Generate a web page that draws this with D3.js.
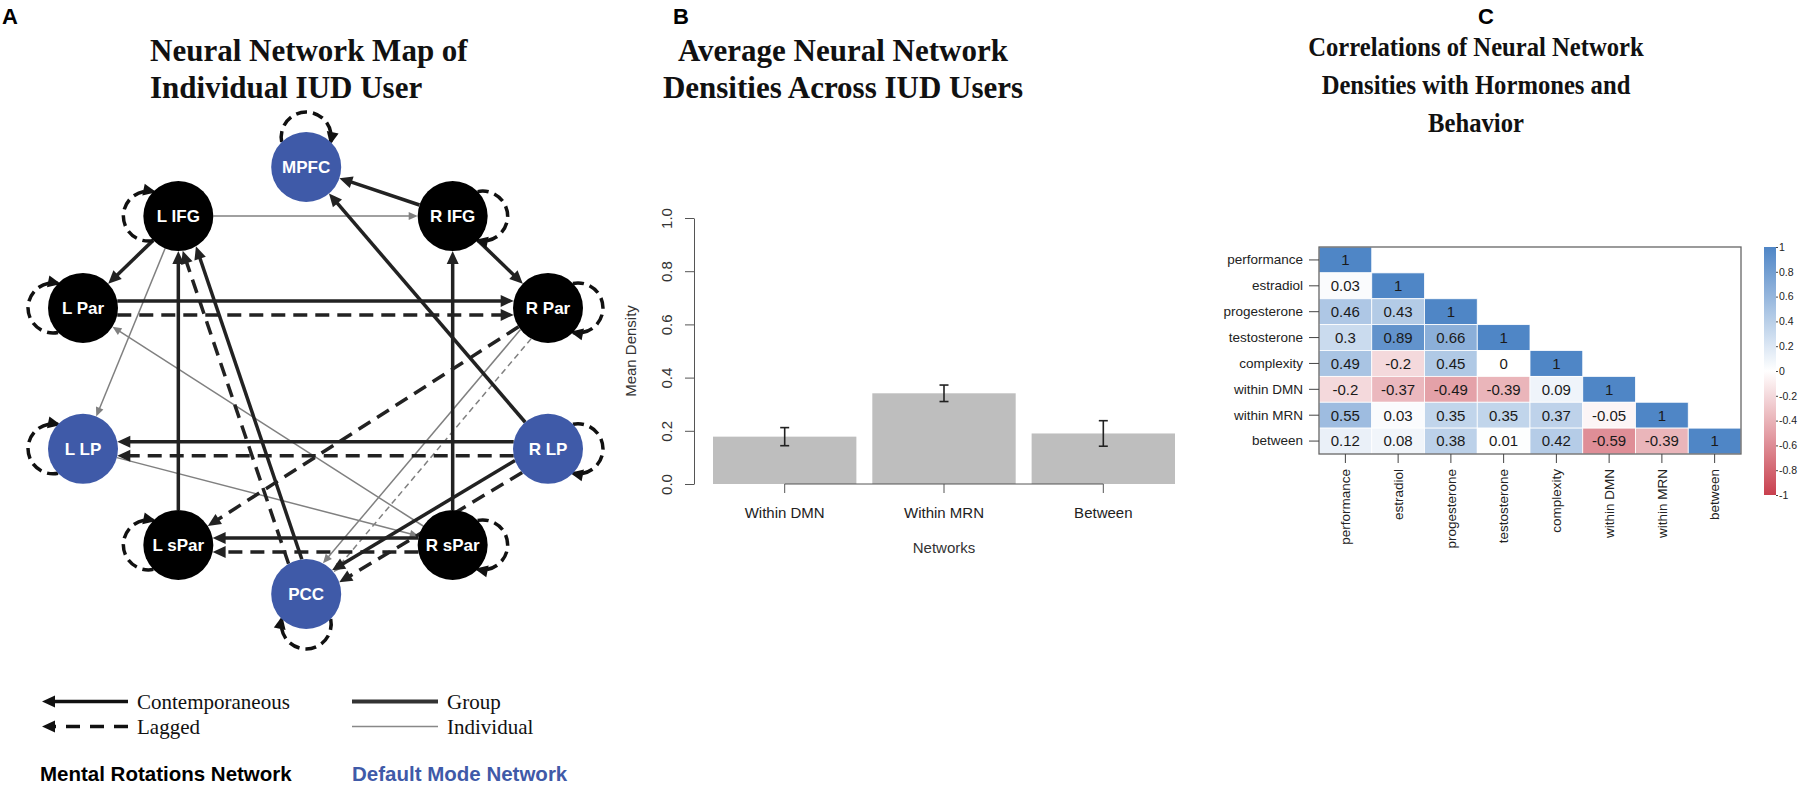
<!DOCTYPE html>
<html>
<head>
<meta charset="utf-8">
<script src="https://cdnjs.cloudflare.com/ajax/libs/d3/7.8.5/d3.min.js"></script>
<style>
  body { margin: 0; background: #fff; }
  text { font-family: "Liberation Sans", Arial, Helvetica, sans-serif; }
  text.serif { font-family: "Liberation Serif", "Times New Roman", serif; }
</style>
</head>
<body>
<svg id="fig" width="1800" height="786"></svg>
<script>
const width = 1800, height = 786;

// ---- panel A: network map ----
const regions = ['MPFC', 'R IFG', 'R Par', 'R LP', 'R sPar', 'PCC', 'L sPar', 'L LP', 'L Par', 'L IFG'];
// qgraph-style layout (unit coordinates)
const layoutX = [-0.04, 0.59, 1, 1, 0.59, -0.04, -0.59, -1, -1, -0.59];
const layoutY = [1, 0.77, 0.34, -0.32, -0.77, -1, -0.77, -0.32, 0.34, 0.77];
const defaultMode = ['MPFC', 'R LP', 'PCC', 'L LP'];
// [from, to, kind, level]
const paths = [
  ['L IFG', 'R IFG', 'contemporaneous', 'individual'],
  ['L IFG', 'L LP', 'contemporaneous', 'individual'],
  ['R sPar', 'L Par', 'contemporaneous', 'individual'],
  ['L LP', 'R sPar', 'contemporaneous', 'individual'],
  ['R Par', 'PCC', 'contemporaneous', 'individual'],
  ['R Par', 'PCC', 'lagged', 'individual'],
  ['R IFG', 'MPFC', 'contemporaneous', 'group'],
  ['R IFG', 'R Par', 'contemporaneous', 'group'],
  ['L IFG', 'L Par', 'contemporaneous', 'group'],
  ['L Par', 'R Par', 'contemporaneous', 'group'],
  ['L Par', 'R Par', 'lagged', 'group'],
  ['R LP', 'L LP', 'contemporaneous', 'group'],
  ['R LP', 'L LP', 'lagged', 'group'],
  ['R sPar', 'L sPar', 'contemporaneous', 'group'],
  ['R sPar', 'L sPar', 'lagged', 'group'],
  ['L sPar', 'L IFG', 'contemporaneous', 'group'],
  ['R sPar', 'R IFG', 'contemporaneous', 'group'],
  ['PCC', 'L IFG', 'contemporaneous', 'group'],
  ['PCC', 'L IFG', 'lagged', 'group'],
  ['R LP', 'MPFC', 'contemporaneous', 'group'],
  ['R LP', 'PCC', 'contemporaneous', 'group'],
  ['R LP', 'PCC', 'lagged', 'group'],
  ['R Par', 'L sPar', 'lagged', 'group']
];
const titleA = ['Neural Network Map of', 'Individual IUD User'];
const kindLabels = ['Contemporaneous', 'Lagged'];
const levelLabels = ['Group', 'Individual'];
const networkLabels = ['Mental Rotations Network', 'Default Mode Network'];

// ---- panel B: densities ----
const titleB = ['Average Neural Network', 'Densities Across IUD Users'];
const networks = ['Within DMN', 'Within MRN', 'Between'];
const meanDensity = [0.178, 0.341, 0.19];
const densityErr = [0.034, 0.031, 0.048];
const densityTicks = [0, 0.2, 0.4, 0.6, 0.8, 1.0];

// ---- panel C: correlations ----
const titleC = ['Correlations of Neural Network', 'Densities with Hormones and', 'Behavior'];
const corrVars = ['performance', 'estradiol', 'progesterone', 'testosterone', 'complexity', 'within DMN', 'within MRN', 'between'];
const corrLower = [
  [1],
  [0.03, 1],
  [0.46, 0.43, 1],
  [0.3, 0.89, 0.66, 1],
  [0.49, -0.2, 0.45, 0, 1],
  [-0.2, -0.37, -0.49, -0.39, 0.09, 1],
  [0.55, 0.03, 0.35, 0.35, 0.37, -0.05, 1],
  [0.12, 0.08, 0.38, 0.01, 0.42, -0.59, -0.39, 1]
];
const corrTicks = [1, 0.8, 0.6, 0.4, 0.2, 0, -0.2, -0.4, -0.6, -0.8, -1];

const svg = d3.select('#fig');
svg.append('rect').attr('width', width).attr('height', height).attr('fill', '#fff');

// panel letters and titles
[['A', 2], ['B', 673], ['C', 1478]].forEach(([l, x]) =>
  svg.append('text').attr('x', x).attr('y', 24).attr('font-weight', 'bold').attr('font-size', 22).text(l));

function title(lines, x, y0, anchor, size, step, squeeze) {
  const t = svg.append('text').attr('class', 'serif').attr('font-weight', 'bold')
    .attr('font-size', size).attr('fill', '#111').attr('text-anchor', anchor);
  lines.forEach((l, i) => {
    const s = t.append('tspan').attr('x', x).attr('y', y0 + i * step).text(l);
    if (squeeze) {
      const w = s.node().getComputedTextLength();
      s.attr('textLength', w * squeeze).attr('lengthAdjust', 'spacingAndGlyphs');
    }
  });
}
title(titleA, 150, 61, 'start', 31, 37);
title(titleB, 843, 61, 'middle', 31, 37);
title(titleC, 1476, 56, 'middle', 28, 38, 0.88);

// ================= panel A =================
const R = 35;
const blue = '#3f5aa8';
const nx = d3.scaleLinear().domain([-1, 1]).range([83, 548]);
const ny = d3.scaleLinear().domain([-1, 1]).range([594, 167]);
const pos = {};
regions.forEach((r, i) => { pos[r] = { x: nx(layoutX[i]), y: ny(layoutY[i]), lx: layoutX[i], ly: layoutY[i] }; });

const gA = svg.append('g');
const gEdges = gA.append('g');

function arrowHead(g, tip, dir, len, half, fill) {
  const bx = tip.x - dir.x * len, by = tip.y - dir.y * len;
  g.append('path')
    .attr('d', `M${tip.x},${tip.y}L${bx - dir.y * half},${by + dir.x * half}L${bx + dir.y * half},${by - dir.x * half}Z`)
    .attr('fill', fill);
}

const pairCount = d3.rollup(paths, v => v.length, d => [d[0], d[1]].sort().join('|'));
const drawOrder = paths.filter(p => p[3] === 'individual').concat(paths.filter(p => p[3] === 'group'));
drawOrder.forEach(([from, to, kind, level]) => {
  const s = pos[from], t = pos[to];
  const L = Math.hypot(t.x - s.x, t.y - s.y);
  const d = { x: (t.x - s.x) / L, y: (t.y - s.y) / L };
  let p = { x: -d.y, y: d.x };
  if (p.y < 0 || (Math.abs(p.y) < 1e-6 && p.x < 0)) p = { x: -p.x, y: -p.y };
  const off = pairCount.get([from, to].sort().join('|')) > 1 ? (kind === 'lagged' ? 7 : -7) : 0;
  const inset = Math.sqrt(R * R - off * off);
  const start = { x: s.x + p.x * off + d.x * inset, y: s.y + p.y * off + d.y * inset };
  const tip = { x: t.x + p.x * off - d.x * inset, y: t.y + p.y * off - d.y * inset };
  const group = level === 'group';
  const len = group ? 13 : 9, half = group ? 6 : 4;
  const color = group ? '#222' : '#808080';
  gEdges.append('line')
    .attr('x1', start.x).attr('y1', start.y)
    .attr('x2', tip.x - d.x * len * 0.8).attr('y2', tip.y - d.y * len * 0.8)
    .attr('stroke', color)
    .attr('stroke-width', group ? 3.5 : 1.5)
    .attr('stroke-dasharray', kind === 'lagged' ? (group ? '14,8' : '6,4') : null);
  arrowHead(gEdges, tip, d, len, half, color);
});

// autoregressive (lagged) self loops, pointing away from the ring centre
const gLoops = gA.append('g');
regions.forEach(r => {
  const c = pos[r];
  const u = Math.abs(c.lx) < 0.1 ? { x: 0, y: c.ly > 0 ? -1 : 1 } : { x: Math.sign(c.lx), y: 0 };
  const perp = { x: -u.y, y: u.x };
  const S = { x: c.x + 25 * u.x - 24.5 * perp.x, y: c.y + 25 * u.y - 24.5 * perp.y };
  const E = { x: c.x + 25 * u.x + 24.5 * perp.x, y: c.y + 25 * u.y + 24.5 * perp.y };
  gLoops.append('path')
    .attr('d', `M${S.x},${S.y}A25,25 0 1 1 ${E.x},${E.y}`)
    .attr('fill', 'none').attr('stroke', '#111').attr('stroke-width', 3.5)
    .attr('stroke-dasharray', '11,6');
  const rel = { x: -5 * u.x + 24.5 * perp.x, y: -5 * u.y + 24.5 * perp.y };
  const tl = Math.hypot(rel.x, rel.y);
  const tan = { x: -rel.y / tl, y: rel.x / tl };
  arrowHead(gLoops, { x: E.x + tan.x * 3, y: E.y + tan.y * 3 }, tan, 13, 6, '#111');
});

// nodes
const gNodes = gA.append('g').selectAll('g').data(regions).join('g')
  .attr('transform', r => `translate(${pos[r].x},${pos[r].y})`);
gNodes.append('circle').attr('r', R).attr('fill', r => defaultMode.includes(r) ? blue : '#000');
gNodes.append('text').attr('text-anchor', 'middle').attr('dy', '0.36em')
  .attr('font-size', 17).attr('font-weight', 'bold').attr('fill', '#fff').text(r => r);

// legend
const gLeg = gA.append('g');
const legY = d3.scaleBand().domain(kindLabels).range([690, 740]);
kindLabels.forEach((k, i) => {
  const y = legY(k) + legY.bandwidth() / 2 - 1;
  gLeg.append('line').attr('x1', 128).attr('y1', y).attr('x2', 52).attr('y2', y)
    .attr('stroke', '#111').attr('stroke-width', 3.5)
    .attr('stroke-dasharray', i === 1 ? '14,10' : null);
  arrowHead(gLeg, { x: 42, y }, { x: -1, y: 0 }, 13, 6, '#111');
  gLeg.append('text').attr('class', 'serif').attr('x', 137).attr('y', y + 7)
    .attr('font-size', 21).attr('fill', '#111').text(k);
});
levelLabels.forEach((k, i) => {
  const y = legY(kindLabels[i]) + legY.bandwidth() / 2 - 1;
  gLeg.append('line').attr('x1', 352).attr('y1', y).attr('x2', 438).attr('y2', y)
    .attr('stroke', i === 0 ? '#333' : '#888').attr('stroke-width', i === 0 ? 4 : 1.6);
  gLeg.append('text').attr('class', 'serif').attr('x', 447).attr('y', y + 7)
    .attr('font-size', 21).attr('fill', '#111').text(k);
});
networkLabels.forEach((k, i) => {
  gLeg.append('text').attr('x', i === 0 ? 40 : 352).attr('y', 781)
    .attr('font-size', 20.5).attr('font-weight', 'bold')
    .attr('fill', i === 0 ? '#000' : blue).text(k);
});

// ================= panel B =================
const gB = svg.append('g');
const xB = d3.scaleBand().domain(networks).range([713, 1175]).paddingInner(0.1).paddingOuter(0);
const yB = d3.scaleLinear().domain([0, 1]).range([484, 218]);
const axisColor = '#555';

gB.selectAll('rect.bar').data(networks).join('rect').attr('class', 'bar')
  .attr('x', d => xB(d)).attr('width', xB.bandwidth())
  .attr('y', (d, i) => yB(meanDensity[i])).attr('height', (d, i) => yB(0) - yB(meanDensity[i]))
  .attr('fill', '#bebebe');

const gErr = gB.append('g').attr('stroke', '#222').attr('stroke-width', 1.6);
networks.forEach((n, i) => {
  const cx = xB(n) + xB.bandwidth() / 2;
  const hi = yB(meanDensity[i] + densityErr[i]), lo = yB(meanDensity[i] - densityErr[i]);
  gErr.append('line').attr('x1', cx).attr('x2', cx).attr('y1', hi).attr('y2', lo);
  gErr.append('line').attr('x1', cx - 4.5).attr('x2', cx + 4.5).attr('y1', hi).attr('y2', hi);
  gErr.append('line').attr('x1', cx - 4.5).attr('x2', cx + 4.5).attr('y1', lo).attr('y2', lo);
});

const yAxisB = gB.append('g').attr('transform', 'translate(694,0)')
  .call(d3.axisLeft(yB).tickValues(densityTicks).tickFormat(d3.format('.1f')).tickSize(9).tickSizeOuter(0));
yAxisB.selectAll('path, line').attr('stroke', axisColor);
yAxisB.selectAll('text').attr('transform', 'rotate(-90)').attr('x', 0).attr('y', -22).attr('dy', 0)
  .attr('text-anchor', 'middle').attr('font-size', 15).attr('fill', '#333')
  .style('font-family', '"Liberation Sans", Arial, sans-serif');

const xAxisB = gB.append('g').attr('transform', 'translate(0,484)')
  .call(d3.axisBottom(xB).tickSize(9).tickSizeOuter(0));
const c0 = xB(networks[0]) + xB.bandwidth() / 2, c2 = xB(networks[2]) + xB.bandwidth() / 2;
xAxisB.select('path.domain').attr('d', `M${c0},0H${c2}`);
xAxisB.selectAll('path, line').attr('stroke', axisColor);
xAxisB.selectAll('text').attr('y', 34).attr('dy', 0).attr('font-size', 15).attr('fill', '#222')
  .style('font-family', '"Liberation Sans", Arial, sans-serif');

gB.append('text').attr('x', (c0 + c2) / 2).attr('y', 553).attr('text-anchor', 'middle')
  .attr('font-size', 15).attr('fill', '#333').text('Networks');
gB.append('text').attr('transform', `translate(636,${yB(0.5)}) rotate(-90)`).attr('text-anchor', 'middle')
  .attr('font-size', 15).attr('fill', '#333').text('Mean Density');

// ================= panel C =================
const gC = svg.append('g');
const xC = d3.scaleBand().domain(corrVars).range([1319, 1741]);
const yC = d3.scaleBand().domain(corrVars).range([247, 454]);
const corrColor = d3.scaleLinear().domain([-1, 0, 1]).range(['#c8404e', '#ffffff', '#4f86c6']);

const cells = [];
corrLower.forEach((row, i) => row.forEach((v, j) => cells.push({ r: corrVars[i], c: corrVars[j], v })));

gC.append('rect').attr('x', 1319).attr('y', 247).attr('width', 422).attr('height', 207).attr('fill', '#fff');
gC.selectAll('rect.cell').data(cells).join('rect').attr('class', 'cell')
  .attr('x', d => xC(d.c)).attr('y', d => yC(d.r))
  .attr('width', xC.bandwidth()).attr('height', yC.bandwidth())
  .attr('fill', d => corrColor(d.v)).attr('stroke', '#fff').attr('stroke-width', 0.8);
gC.selectAll('text.val').data(cells).join('text').attr('class', 'val')
  .attr('x', d => xC(d.c) + xC.bandwidth() / 2).attr('y', d => yC(d.r) + yC.bandwidth() / 2)
  .attr('dy', '0.36em').attr('text-anchor', 'middle').attr('font-size', 15).attr('fill', '#1a1a1a')
  .text(d => String(d.v));
gC.append('rect').attr('x', 1319).attr('y', 247).attr('width', 422).attr('height', 207)
  .attr('fill', 'none').attr('stroke', '#666').attr('stroke-width', 1.3);

const yAxisC = gC.append('g').attr('transform', 'translate(1319,0)')
  .call(d3.axisLeft(yC).tickSize(10).tickSizeOuter(0));
yAxisC.select('path.domain').remove();
yAxisC.selectAll('line').attr('stroke', '#444');
yAxisC.selectAll('text').attr('x', -16).attr('font-size', 13.5).attr('fill', '#222')
  .style('font-family', '"Liberation Sans", Arial, sans-serif');

const xAxisC = gC.append('g').attr('transform', 'translate(0,454)')
  .call(d3.axisBottom(xC).tickSize(9).tickSizeOuter(0));
xAxisC.select('path.domain').remove();
xAxisC.selectAll('line').attr('stroke', '#444');
xAxisC.selectAll('text').attr('transform', 'rotate(-90)').attr('x', -15).attr('y', 0).attr('dy', '0.35em')
  .attr('text-anchor', 'end').attr('font-size', 13.5).attr('fill', '#222')
  .style('font-family', '"Liberation Sans", Arial, sans-serif');

// colour legend
const yLeg = d3.scaleLinear().domain([-1, 1]).range([495, 247]);
const grad = svg.append('defs').append('linearGradient').attr('id', 'corrGrad')
  .attr('x1', 0).attr('y1', 1).attr('x2', 0).attr('y2', 0);
d3.range(-1, 1.001, 0.1).forEach(v => grad.append('stop').attr('offset', (v + 1) / 2).attr('stop-color', corrColor(v)));
gC.append('rect').attr('x', 1764).attr('y', yLeg(1)).attr('width', 12).attr('height', yLeg(-1) - yLeg(1))
  .attr('fill', 'url(#corrGrad)');
const legAxis = gC.append('g').attr('transform', 'translate(1776,0)')
  .call(d3.axisRight(yLeg).tickValues(corrTicks).tickFormat(d => String(d)).tickSize(2).tickSizeOuter(0));
legAxis.select('path.domain').remove();
legAxis.selectAll('line').attr('stroke', '#444');
legAxis.selectAll('text').attr('x', 3).attr('font-size', 10.5).attr('fill', '#222')
  .style('font-family', '"Liberation Sans", Arial, sans-serif');
</script>
</body>
</html>
